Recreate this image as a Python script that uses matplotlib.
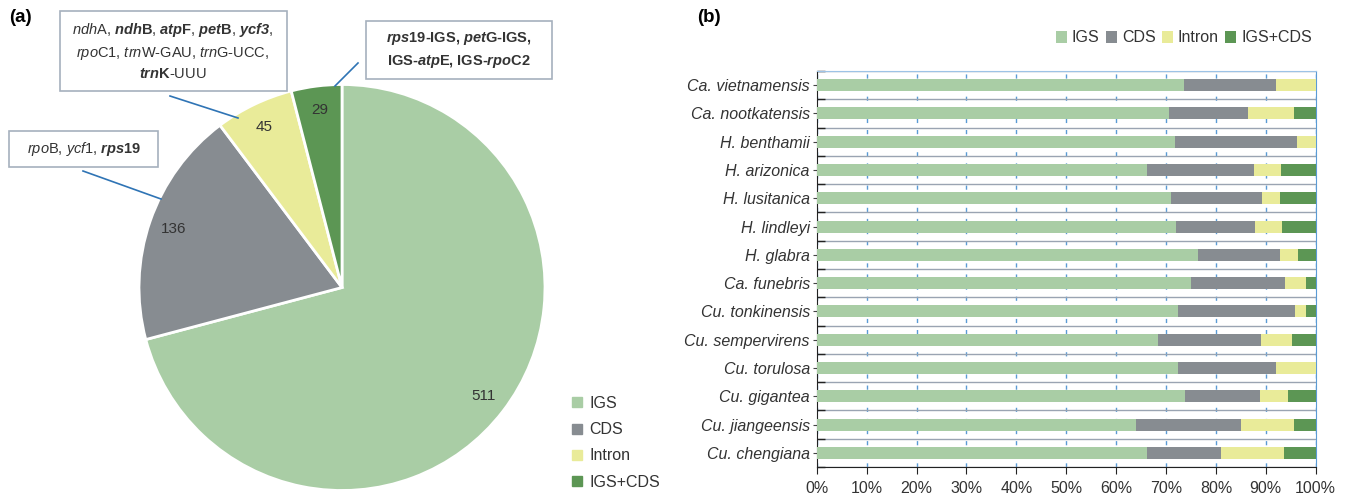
import matplotlib
matplotlib.use("Agg")
import matplotlib.pyplot as plt
import numpy as np
from matplotlib.patches import Rectangle
from matplotlib.lines import Line2D

plt.rcParams['font.family'] = ['Liberation Sans', 'DejaVu Sans']
plt.rcParams['mathtext.fontset'] = 'custom'
plt.rcParams['mathtext.rm'] = 'Liberation Sans'
plt.rcParams['mathtext.it'] = 'Liberation Sans:italic'
plt.rcParams['mathtext.bf'] = 'Liberation Sans:bold'
plt.rcParams['mathtext.bfit'] = 'Liberation Sans:italic:bold'

# ---- data ----
region_types = ['IGS', 'CDS', 'Intron', 'IGS+CDS']
region_counts = [511, 136, 45, 29]
colors = ['#a9cda5', '#878c91', '#e9eb99', '#5c9654']

species = ['Ca. vietnamensis', 'Ca. nootkatensis', 'H. benthamii', 'H. arizonica',
           'H. lusitanica', 'H. lindleyi', 'H. glabra', 'Ca. funebris',
           'Cu. tonkinensis', 'Cu. sempervirens', 'Cu. torulosa', 'Cu. gigantea',
           'Cu. jiangeensis', 'Cu. chengiana']
igs_pct    = [73.6, 70.6, 71.9, 66.2, 71.0, 72.0, 76.5, 75.1, 72.5, 68.4, 72.5, 73.8, 64.0, 66.2]
cds_pct    = [18.4, 15.9, 24.4, 21.5, 18.2, 15.9, 16.4, 18.8, 23.3, 20.6, 19.5, 15.0, 21.0, 14.8]
intron_pct = [8.0, 9.2, 3.7, 5.3, 3.6, 5.3, 3.6, 4.1, 2.2, 6.3, 8.0, 5.6, 10.7, 12.7]
igscds_pct = [0.0, 4.3, 0.0, 7.0, 7.2, 6.8, 3.5, 2.0, 2.0, 4.7, 0.0, 5.6, 4.3, 6.3]
pct_ticks = [0, 10, 20, 30, 40, 50, 60, 70, 80, 90, 100]

W, H = 1346, 496
fig = plt.figure(figsize=(W / 100, H / 100), dpi=100)
txt = '#333333'

def fx(x):
    return x / W

def fy(y):
    return 1 - y / H

# ---- (a) pie ----
cx, cy, r = 342, 287.5, 203
axp = fig.add_axes([fx(cx - r), fy(cy + r), 2 * r / W, 2 * r / H])
total = sum(region_counts)
wedges, _, autotexts = axp.pie(
    region_counts, colors=colors, startangle=90, counterclock=False,
    wedgeprops=dict(edgecolor='white', linewidth=2),
    autopct=lambda p: '{:d}'.format(int(round(p * total / 100))),
    pctdistance=0.88, textprops=dict(fontsize=11, color=txt))
axp.set_xlim(-1, 1)
axp.set_ylim(-1, 1)
axp.set_aspect('equal')
axp.set_clip_on(False)

fig.text(fx(9), fy(18), '(a)', fontsize=13.5, fontweight='bold', va='center', ha='left')
fig.text(fx(697), fy(18), '(b)', fontsize=13.5, fontweight='bold', va='center', ha='left')

box_edge = '#a6b0bd'
callouts = [
    dict(rect=(60, 11, 287, 91), center=(173, 51),
         text=(r'$\mathit{ndh}$A, $\mathbfit{ndh}\mathbf{B}$, $\mathbfit{atp}\mathbf{F}$, '
               r'$\mathbfit{pet}\mathbf{B}$, $\mathbfit{ycf3}$,' '\n'
               r'$\mathit{rpo}$C1, $\mathit{trn}$W-GAU, $\mathit{trn}$G-UCC,' '\n'
               r'$\mathbfit{trn}\mathbf{K}$-UUU'),
         weight='normal', line=((170, 96), (238, 118))),
    dict(rect=(9, 131, 158, 167), center=(84, 149),
         text=r'$\mathit{rpo}$B, $\mathit{ycf}$1, $\mathbfit{rps}\mathbf{19}$',
         weight='normal', line=((83, 171), (161, 199))),
    dict(rect=(366, 21, 552, 79), center=(459, 50),
         text=(r'$\mathbfit{rps}$19-IGS, $\mathbfit{pet}$G-IGS,' '\n'
               r'IGS-$\mathbfit{atp}$E, IGS-$\mathbfit{rpo}$C2'),
         weight='bold', line=((358, 63), (335, 86))),
]
for c in callouts:
    x0, y0, x1, y1 = c['rect']
    fig.patches.append(Rectangle((fx(x0), fy(y1)), (x1 - x0) / W, (y1 - y0) / H,
                                 transform=fig.transFigure, facecolor='white',
                                 edgecolor=box_edge, linewidth=1.2, zorder=3))
    fig.text(fx(c['center'][0]), fy(c['center'][1]), c['text'], ha='center', va='center',
             fontsize=10.5, color=txt, fontweight=c['weight'], linespacing=1.45, zorder=4)
    (lx0, ly0), (lx1, ly1) = c['line']
    fig.lines.append(Line2D([fx(lx0), fx(lx1)], [fy(ly0), fy(ly1)],
                            transform=fig.transFigure, color='#2f74b5', linewidth=1.2))

pie_handles = [Line2D([], [], marker='s', linestyle='none', markersize=6.5,
                      markerfacecolor=c, markeredgecolor=c) for c in colors]
fig.legend(pie_handles, region_types, loc='upper left', bbox_to_anchor=(fx(571), fy(396)),
           frameon=False, fontsize=11.5, handlelength=0.8, handletextpad=0.35,
           labelspacing=0.7, labelcolor=txt, borderaxespad=0, borderpad=0)

# ---- (b) stacked bars ----
left_px, right_px, top_px, bot_px = 816.7, 1315.7, 71, 467
axb = fig.add_axes([fx(left_px), fy(bot_px), (right_px - left_px) / W, (bot_px - top_px) / H])
ypos = np.arange(len(species))
series = [igs_pct, cds_pct, intron_pct, igscds_pct]
left = np.zeros(len(species))
bar_handles = []
for vals, col, name in zip(series, colors, region_types):
    vals = np.array(vals)
    b = axb.barh(ypos, vals, left=left, height=0.42, color=col, label=name, zorder=3)
    bar_handles.append(b)
    left = left + vals

axb.set_xlim(0, 100)
axb.set_ylim(len(species) - 0.5, -0.5)
axb.set_xticks(pct_ticks)
axb.set_xticklabels(['{}%'.format(t) for t in pct_ticks], fontsize=11.5, color=txt)
axb.set_yticks(ypos)
axb.set_yticklabels(species, fontsize=11.5, style='italic', color=txt)
axb.set_yticks(np.arange(len(species) + 1) - 0.5, minor=True)
axb.tick_params(axis='y', which='major', length=3, direction='out', pad=2, color='#444444')
axb.tick_params(axis='y', which='minor', length=6, direction='in', width=1, color='#222222')
axb.tick_params(axis='x', which='major', length=5, direction='out', pad=5, color='#222222')
axb.grid(axis='x', which='major', color='#5b9bd5', linestyle=(0, (3, 5)), linewidth=1, zorder=1)
axb.grid(axis='y', which='minor', color='#9aa4b2', linestyle='-', linewidth=1, zorder=1)
axb.grid(axis='y', which='major', visible=False)
for s in ['left', 'bottom']:
    axb.spines[s].set_color('#222222')
axb.spines['right'].set_color('#5b9bd5')
axb.spines['top'].set_color('#9dc3e6')

fig.legend(bar_handles, region_types, loc='center right', bbox_to_anchor=(fx(1312), fy(38)),
           ncol=4, frameon=False, fontsize=11.5, handlelength=0.7, handleheight=0.7,
           handletextpad=0.3, columnspacing=0.4, labelcolor=txt, borderaxespad=0, borderpad=0)

fig.savefig('out.png', dpi=100)
